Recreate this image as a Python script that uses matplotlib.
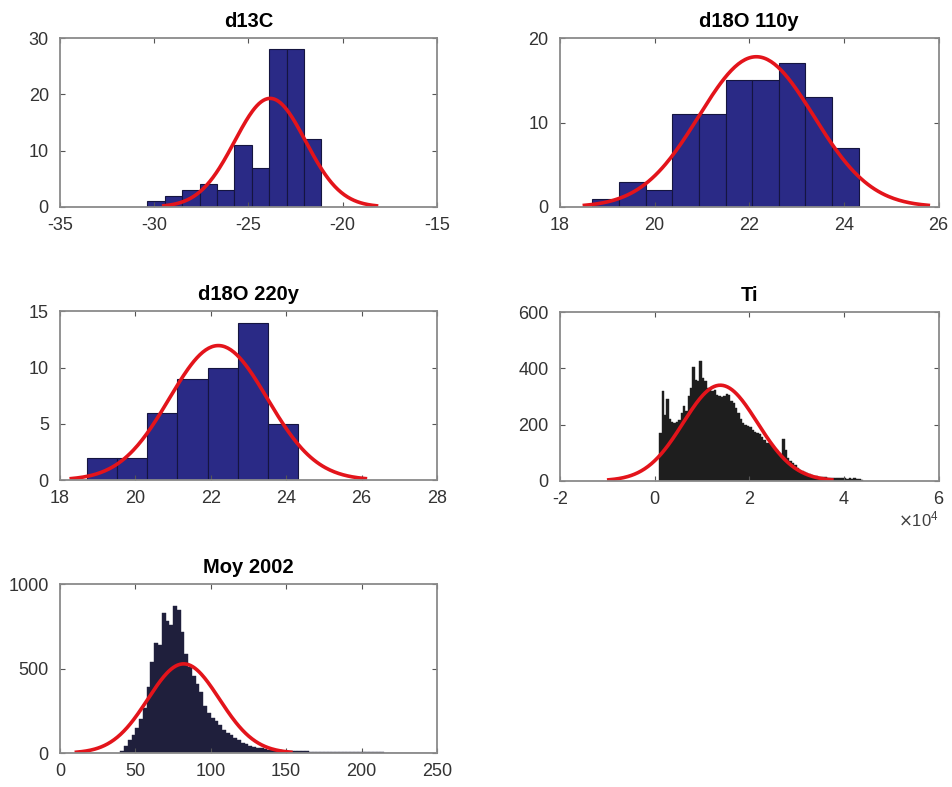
import numpy as np
import matplotlib
matplotlib.use('Agg')
import matplotlib.pyplot as plt
from matplotlib.ticker import FuncFormatter

plt.rcParams['font.family'] = ['Liberation Sans', 'DejaVu Sans']
plt.rcParams['axes.unicode_minus'] = False

# ---- data ----
# d13C : 10 bins
d13c_left = -30.37
d13c_width = 0.924
d13c_counts = [1, 2, 3, 4, 3, 11, 7, 28, 28, 12]

# d18O 110y : 10 bins
o110_left = 18.69
o110_width = 0.562
o110_counts = [1, 3, 2, 11, 11, 15, 15, 17, 13, 7]

# d18O 220y : 7 bins
o220_left = 18.72
o220_width = 0.799
o220_counts = [2, 2, 6, 9, 10, 14, 5]

# Ti : bins of 500 starting at 1000
ti_left = 1000
ti_width = 500
ti_counts = [170, 320, 235, 290, 220, 210, 205, 210, 215, 240,
             265, 250, 300, 330, 405, 360, 355, 425, 365, 355,
             330, 325, 320, 322, 305, 300, 298, 300, 310, 305,
             285, 275, 260, 240, 220, 205, 198, 195, 190, 182,
             175, 170, 165, 155, 145, 135, 133, 128, 120, 110,
             100, 95, 150, 108, 80, 70, 62, 55, 45, 40,
             35, 32, 28, 24, 21, 18, 16, 14, 13, 12,
             12, 11, 11, 10, 10, 11, 9, 10, 9, 8,
             10, 7, 9, 6, 5, 3]

# Moy 2002 : bins of 2.5 starting at 40
moy_left = 40
moy_width = 2.5
moy_counts = [15, 45, 75, 110, 150, 200, 270, 390, 540, 650,
              640, 830, 780, 760, 870, 850, 720, 590, 510, 460,
              410, 360, 280, 235, 210, 190, 165, 140, 120, 105,
              90, 75, 62, 52, 44, 38, 32, 28, 24, 20,
              19, 18, 16, 15, 14, 13, 12, 11, 10, 10,
              9, 9, 9, 8, 8, 8, 7, 7, 7, 6,
              6, 6, 6, 5, 5, 4, 4, 4, 4, 4,
              3, 3, 3, 3, 3, 3, 2, 2, 2, 2,
              2, 2, 1, 1]

# normal fits (mean, sigma, peak height)
fits = {
    'd13C': (-23.85, 1.88, 19.3),
    'd18O 110y': (22.15, 1.21, 17.8),
    'd18O 220y': (22.2, 1.30, 11.95),
    'Ti': (13900, 7850, 340),
    'Moy 2002': (82.0, 23.7, 529),
}

panels = [
    ('d13C', d13c_left, d13c_width, d13c_counts, (-35, -15), np.arange(-35, -14, 5), (0, 30), [0, 10, 20, 30]),
    ('d18O 110y', o110_left, o110_width, o110_counts, (18, 26), np.arange(18, 27, 2), (0, 20), [0, 10, 20]),
    ('d18O 220y', o220_left, o220_width, o220_counts, (18, 28), np.arange(18, 29, 2), (0, 15), [0, 5, 10, 15]),
    ('Ti', ti_left, ti_width, ti_counts, (-20000, 60000), np.arange(-20000, 60001, 20000), (0, 600), [0, 200, 400, 600]),
    ('Moy 2002', moy_left, moy_width, moy_counts, (0, 250), np.arange(0, 251, 50), (0, 1000), [0, 500, 1000]),
]

positions = [
    [0.063, 0.737, 0.396, 0.2145],
    [0.588, 0.737, 0.398, 0.2145],
    [0.063, 0.390, 0.396, 0.2145],
    [0.588, 0.389, 0.398, 0.2145],
    [0.063, 0.043, 0.396, 0.2145],
]

bar_colors = {'Ti': '#1e1e1e', 'Moy 2002': '#1f1f3c'}

fig = plt.figure(figsize=(9.52, 7.87), dpi=100)

for (name, left, width, counts, xl, xt, yl, yt), pos in zip(panels, positions):
    ax = fig.add_axes(pos)
    counts = np.array(counts)
    edges = left + width * np.arange(len(counts))
    if name in bar_colors:
        ax.bar(edges, counts, width=width, align='edge',
               color=bar_colors[name], edgecolor=bar_colors[name], linewidth=0.3)
    else:
        ax.bar(edges, counts, width=width, align='edge',
               color='#2a2a86', edgecolor='#151540', linewidth=0.8)

    mu, sig, peak = fits[name]
    xx = np.linspace(mu - 3 * sig, mu + 3 * sig, 200)
    ax.plot(xx, peak * np.exp(-0.5 * ((xx - mu) / sig) ** 2), color='#e3141b', lw=2.6)

    ax.set_xlim(xl)
    ax.set_ylim(yl)
    ax.set_xticks(xt)
    ax.set_yticks(yt)
    ax.set_title(name, fontsize=14.5, fontweight='bold', pad=8)
    ax.tick_params(direction='in', length=3.5, width=0.8, top=True, right=True,
                   labelsize=13, labelcolor='#333333', color='#555555')
    ax.tick_params(axis='x', pad=7)
    ax.tick_params(axis='y', pad=8)
    for s in ax.spines.values():
        s.set_color('#8a8a8a')
        s.set_linewidth(1.3)

    if name == 'Ti':
        # MATLAB style exponent: ticks in units of 10^4, multiplier under the axis
        ax.xaxis.set_major_formatter(FuncFormatter(lambda v, p: '%g' % (v / 1e4)))
        ax.text(1.0, -0.17, r'$\times\mathregular{10^{4}}$', transform=ax.transAxes,
                ha='right', va='top', fontsize=12, color='#404040')

fig.savefig('out.png', dpi=100)
